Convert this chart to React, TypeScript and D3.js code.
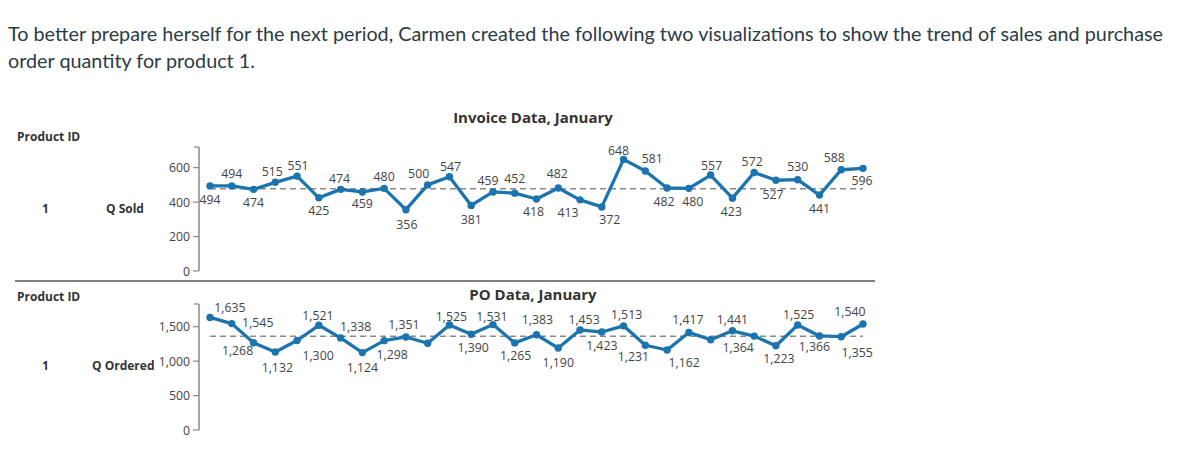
import React from "react";
import * as d3 from "d3";

const DAYS = d3.range(1, 32);

const INVOICE_QTY = [494, 494, 474, 515, 551, 425, 474, 459, 480, 356, 500, 547, 381, 459, 452, 418, 482, 413, 372, 648, 581, 482, 480, 557, 423, 572, 527, 530, 441, 588, 596];
const PO_QTY = [1635, 1545, 1268, 1132, 1300, 1521, 1338, 1124, 1298, 1351, 1260, 1525, 1390, 1531, 1265, 1383, 1190, 1453, 1423, 1513, 1231, 1162, 1417, 1310, 1441, 1364, 1223, 1525, 1366, 1355, 1540];
// which PO points carry no label in the original
const PO_UNLABELED = [11, 24];
// dashed reference (average) levels
const INVOICE_REF_LEVEL = 477;
const PO_REF_LEVEL = 1362;

const INVOICE_TICKS = [0, 200, 400, 600];
const PO_TICKS = [0, 500, 1000, 1500];

// label offsets (dx, dy) relative to each point
const INVOICE_LABEL_OFFSETS: [number, number][] = [
  [0, 14], [0, -12], [0, 13], [-3, -11], [1, -11], [0, 13], [-1, -11], [0, 12], [0, -12], [1, 15],
  [-9, -11], [1, -10], [0, 14], [-5, -11], [0, -15], [-3, 12], [-1, -14], [-12, 13], [8, 13], [-5, -9],
  [7, -12], [-3, 14], [4, 13], [1, -10], [-1, 13], [-2, -11], [-3, 14], [0, -13], [0, 13], [-7, -12], [-1, 12],
];
const PO_LABEL_OFFSETS: [number, number][] = [
  [20, -10], [26, -1], [-16, 8], [2, 15], [21, 15], [-1, -10], [15, -11], [0, 15], [8, 14], [-2, -12],
  [0, 0], [2, -9], [2, 13], [-1, -8], [1, 13], [1, -15], [0, 14], [4, -10], [0, 13], [3, -11],
  [-12, 11], [17, 13], [-1, -13], [0, 0], [0, -11], [-16, 11], [3, 13], [1, -11], [-5, 11], [16, 16], [-13, -12],
];

const HEADER_LINES = [
  "To better prepare herself for the next period, Carmen created the following two visualizations to show the trend of sales and purchase",
  "order quantity for product 1.",
];

const LINE_COLOR = "#1c74ae";
const FONT = "'Open Sans', sans-serif";
const LABEL_SIZE = 12.3;
const fmt = d3.format(",");

type PanelProps = {
  values: number[];
  refLevel: number;
  ticks: number[];
  yMax: number;
  yTop: number;
  yBottom: number;
  title: string;
  titleY: number;
  rowLabel: string;
  rowLabelX: number;
  rowY: number;
  productIdY: number;
  offsets: [number, number][];
  unlabeled: number[];
};

function Panel(p: PanelProps) {
  const x = d3.scaleLinear().domain([1, 31]).range([210, 863]);
  const y = d3.scaleLinear().domain([0, p.yMax]).range([p.yBottom, p.yTop]);
  const line = d3.line<number>().x((_, i) => x(DAYS[i])).y((v) => y(v));
  return (
    <g>
      <text x={17} y={p.productIdY} fontFamily={FONT} fontWeight={700} fontSize={12} fill="#333">Product ID</text>
      <text x={533} y={p.titleY} fontFamily={FONT} fontWeight={700} fontSize={15} fill="#333" textAnchor="middle">{p.title}</text>
      <text x={42} y={p.rowY} fontFamily={FONT} fontWeight={700} fontSize={12} fill="#333">1</text>
      <text x={p.rowLabelX} y={p.rowY} fontFamily={FONT} fontWeight={700} fontSize={12} fill="#333">{p.rowLabel}</text>
      {/* y axis */}
      <line x1={199} x2={199} y1={p.yTop} y2={p.yBottom} stroke="#888" strokeWidth={1.5} />
      <line x1={194} x2={199} y1={p.yTop} y2={p.yTop} stroke="#888" strokeWidth={1.2} />
      {p.ticks.map((t) => (
        <g key={t}>
          <line x1={193} x2={199} y1={y(t)} y2={y(t)} stroke="#888" strokeWidth={1.2} />
          <text x={190} y={y(t) + 4.5} fontFamily={FONT} fontSize={LABEL_SIZE} fill="#444" textAnchor="end">{fmt(t)}</text>
        </g>
      ))}
      {/* average */}
      <line x1={x(1)} x2={x(31)} y1={y(p.refLevel)} y2={y(p.refLevel)} stroke="#8a8a8a" strokeWidth={1.5} strokeDasharray="6,4" />
      <path d={line(p.values) || ""} fill="none" stroke={LINE_COLOR} strokeWidth={3.3} strokeLinejoin="round" />
      {p.values.map((v, i) => (
        <circle key={i} cx={x(DAYS[i])} cy={y(v)} r={3.7} fill={LINE_COLOR} />
      ))}
      {p.values.map((v, i) =>
        p.unlabeled.includes(DAYS[i]) ? null : (
          <text
            key={"l" + i}
            x={x(DAYS[i]) + p.offsets[i][0]}
            y={y(v) + p.offsets[i][1] + 4.5}
            fontFamily={FONT}
            fontSize={LABEL_SIZE}
            fill="#444"
            textAnchor="middle"
          >
            {fmt(v)}
          </text>
        )
      )}
    </g>
  );
}

export default function App() {
  return (
    <svg
      width={1177}
      height={454}
      style={{ position: "absolute", left: 0, top: 0, background: "#fff" }}
    >
      {HEADER_LINES.map((t, i) => (
        <text key={i} x={8} y={41 + i * 27} fontFamily="Lato, sans-serif" fontSize={19.8} fill="#2d3b45">{t}</text>
      ))}
      <Panel
        values={INVOICE_QTY}
        refLevel={INVOICE_REF_LEVEL}
        ticks={INVOICE_TICKS}
        yMax={720}
        yTop={147}
        yBottom={271}
        title="Invoice Data, January"
        titleY={123}
        rowLabel="Q Sold"
        rowLabelX={106}
        rowY={213}
        productIdY={141}
        offsets={INVOICE_LABEL_OFFSETS}
        unlabeled={[]}
      />
      <line x1={15} x2={875} y1={281} y2={281} stroke="#555" strokeWidth={1.5} />
      <Panel
        values={PO_QTY}
        refLevel={PO_REF_LEVEL}
        ticks={PO_TICKS}
        yMax={1830}
        yTop={304}
        yBottom={430}
        title="PO Data, January"
        titleY={300}
        rowLabel="Q Ordered"
        rowLabelX={92}
        rowY={370}
        productIdY={301}
        offsets={PO_LABEL_OFFSETS}
        unlabeled={PO_UNLABELED}
      />
    </svg>
  );
}
